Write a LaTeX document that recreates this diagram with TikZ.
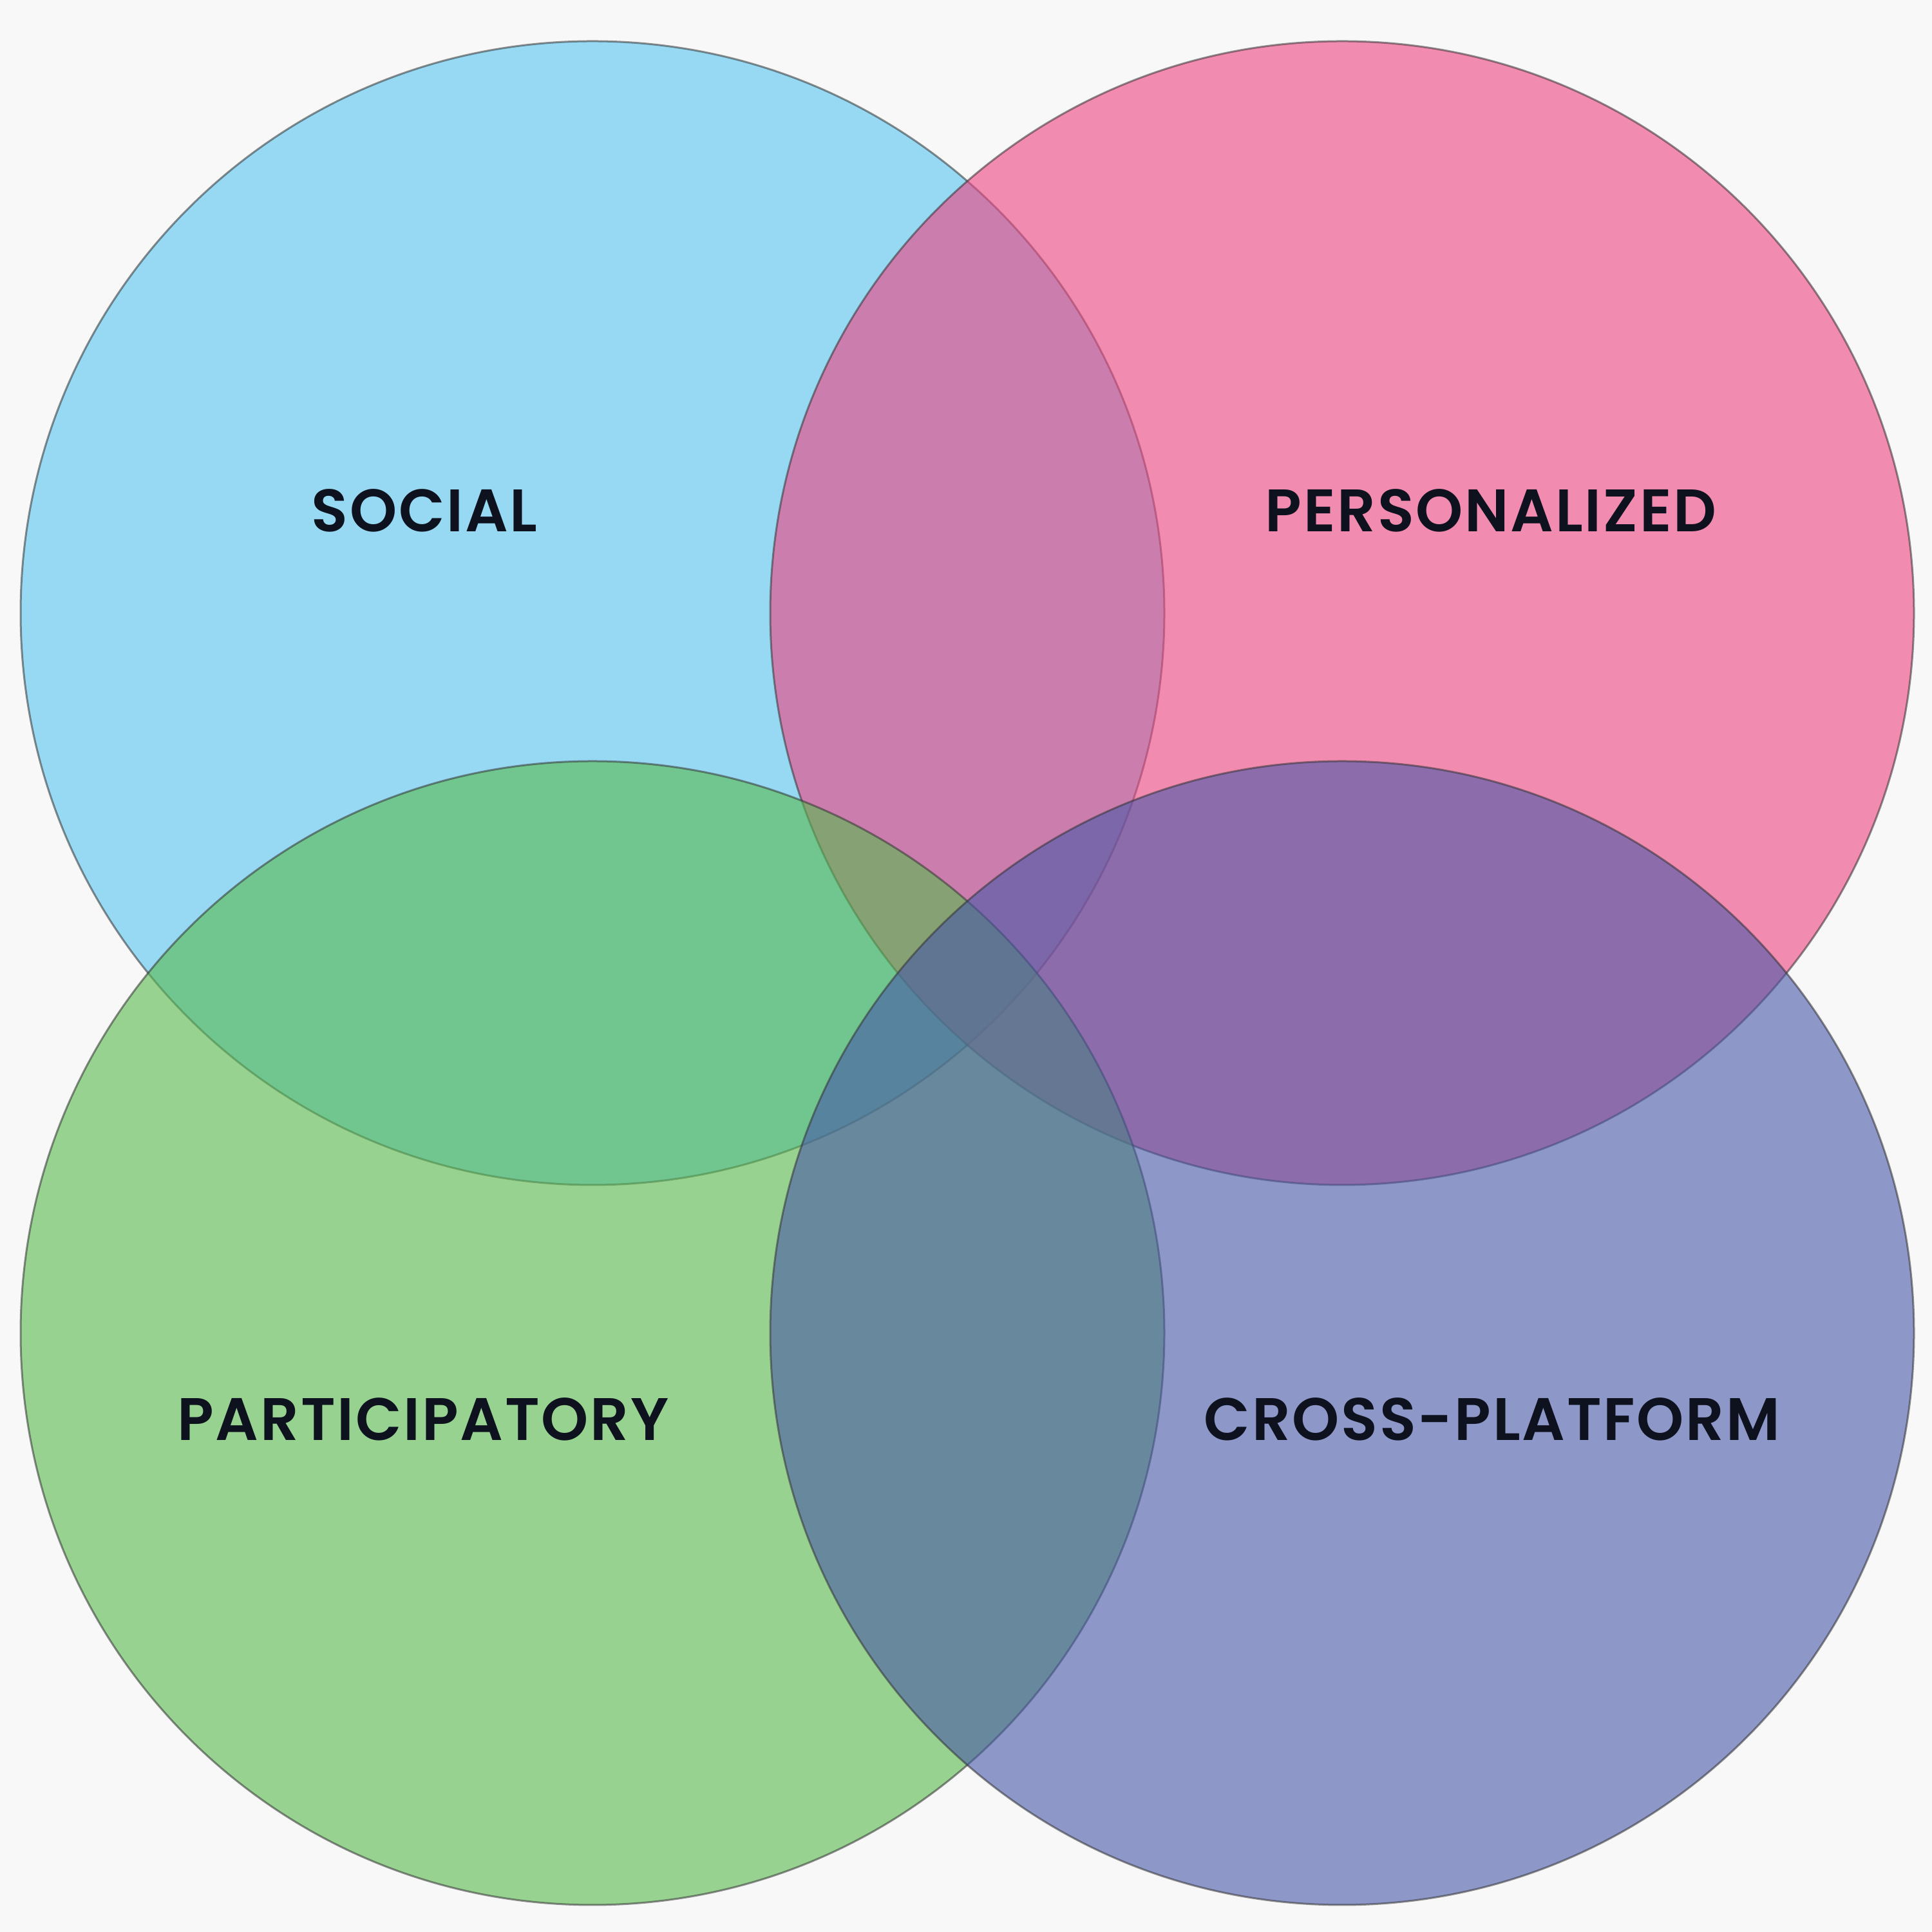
\documentclass[tikz,border=0pt]{standalone}
\usepackage{fontspec}
\setmainfont{Poppins}[BoldFont={Poppins SemiBold}, BoldFeatures={LetterSpace=3}]
\definecolor{bgc}{RGB}{248,248,248}
\definecolor{cblue}{RGB}{87,195,238}
\definecolor{cpink}{RGB}{238,67,128}
\definecolor{cgreen}{RGB}{88,185,77}
\definecolor{cpurple}{RGB}{72,88,168}
\definecolor{txt}{RGB}{14,18,30}
\tikzset{
  venn/.style={circle, inner sep=0pt, minimum size=17.76cm, fill opacity=0.6,
    draw=black!80, draw opacity=0.55, line width=0.03cm},
  lab/.style={inner sep=0pt, text=txt, font=\fontsize{26.5}{30}\selectfont\bfseries}
}
\begin{document}
\begin{tikzpicture}
\fill[bgc] (0,0) rectangle (30,30);
\useasboundingbox (0,0) rectangle (30,30);
\node[venn, fill=cblue]   (social) at (9.20,20.48) {};
\node[venn, fill=cpink]   (pers)   at (20.84,20.48) {};
\node[venn, fill=cgreen]  (part)   at (9.20,9.30) {};
\node[venn, fill=cpurple] (cross)  at (20.84,9.30) {};
\node[lab] (tsocial) at (6.59,22.07) {SOCIAL};
\node[lab] (tpers)   at (23.15,22.07) {PERSONALIZED};
\node[lab] (tpart)   at (6.57,7.96) {PARTICIPATORY};
\node[lab] (tcross)  at (23.17,7.96) {CROSS-PLATFORM};
\end{tikzpicture}
\end{document}
